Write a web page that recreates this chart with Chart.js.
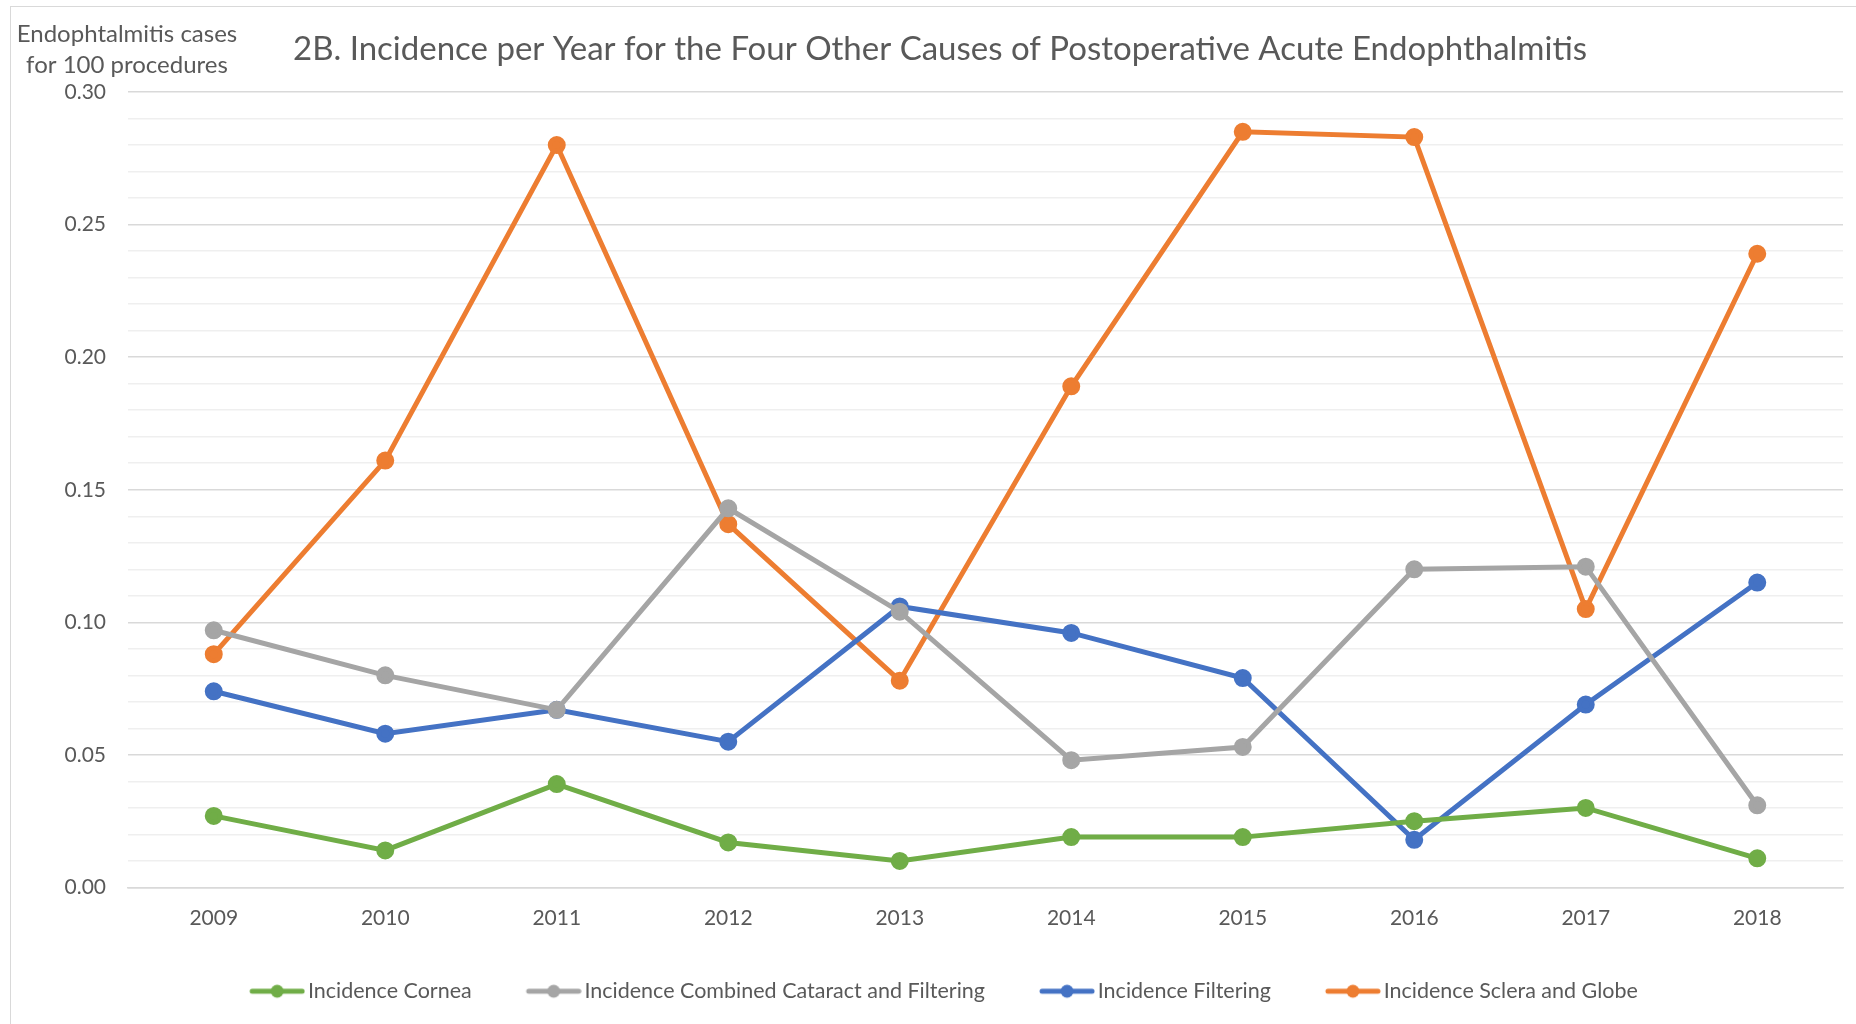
<!DOCTYPE html>
<html>
<head>
<meta charset="utf-8">
<script src="https://cdn.jsdelivr.net/npm/chart.js@4.4.1/dist/chart.umd.min.js"></script>
<style>
  html, body { margin: 0; padding: 0; background: #fff; }
  #wrap { position: relative; width: 1856px; height: 1024px; }
</style>
</head>
<body>
<div id="wrap"><canvas id="chart" width="1856" height="1024"></canvas></div>
<script>
const years = ['2009', '2010', '2011', '2012', '2013', '2014', '2015', '2016', '2017', '2018'];
const cornea = [0.027, 0.014, 0.039, 0.017, 0.010, 0.019, 0.019, 0.025, 0.030, 0.011];
const combined = [0.097, 0.080, 0.067, 0.143, 0.104, 0.048, 0.053, 0.120, 0.121, 0.031];
const filtering = [0.074, 0.058, 0.067, 0.055, 0.106, 0.096, 0.079, 0.018, 0.069, 0.115];
const sclera = [0.088, 0.161, 0.280, 0.137, 0.078, 0.189, 0.285, 0.283, 0.105, 0.239];

const FONT = 'Lato, "Open Sans", sans-serif';
const TEXT = '#595959';
const BOX_W = 92;

// legend marker: short line with a dot, drawn at the right end of a wide box
function legendIcon(color) {
    const c = document.createElement('canvas');
    c.width = BOX_W + 16; c.height = 16;
    const g = c.getContext('2d');
    const x1 = c.width - 3, x0 = x1 - 50;
    g.strokeStyle = color;
    g.lineWidth = 5;
    g.lineCap = 'round';
    g.beginPath(); g.moveTo(x0, 8); g.lineTo(x1, 8); g.stroke();
    g.fillStyle = color;
    g.beginPath(); g.arc((x0 + x1) / 2, 8, 6.5, 0, Math.PI * 2); g.fill();
    return c;
}

function series(label, data, color) {
    return {
        label: label,
        data: data,
        borderColor: color,
        backgroundColor: color,
        borderWidth: 5,
        pointRadius: 6.5,
        pointHoverRadius: 7,
        pointBackgroundColor: color,
        pointBorderColor: color,
        tension: 0,
        fill: false
    };
}

// title, axis label and outer frame
const decor = {
    id: 'decor',
    beforeDraw(chart) {
        const ctx = chart.ctx;
        ctx.save();
        ctx.strokeStyle = '#d9d9d9';
        ctx.lineWidth = 1;
        ctx.strokeRect(10.5, 6.5, 1860, 1030);
        ctx.restore();
    },
    afterDraw(chart) {
        const ctx = chart.ctx;
        ctx.save();
        ctx.fillStyle = TEXT;
        ctx.textAlign = 'center';
        ctx.textBaseline = 'middle';
        ctx.font = '33px ' + FONT;
        ctx.fillText('2B. Incidence per Year for the Four Other Causes of Postoperative Acute Endophthalmitis', 940, 49);
        ctx.font = '24px ' + FONT;
        ctx.fillText('Endophtalmitis cases', 127, 34);
        ctx.fillText('for 100 procedures', 127, 65);
        ctx.restore();
    }
};

new Chart(document.getElementById('chart').getContext('2d'), {
    type: 'line',
    data: {
        labels: years,
        datasets: [
            series('Incidence Cornea', cornea, '#70AD47'),
            series('Incidence Combined Cataract and Filtering', combined, '#A5A5A5'),
            series('Incidence Filtering', filtering, '#4472C4'),
            series('Incidence Sclera and Globe', sclera, '#ED7D31')
        ]
    },
    options: {
        responsive: false,
        animation: false,
        layout: { padding: { top: 92, right: 13, left: 0, bottom: 12 } },
        plugins: {
            title: { display: false },
            tooltip: { enabled: false },
            legend: {
                position: 'bottom',
                labels: {
                    font: { family: FONT, size: 21.5 },
                    color: TEXT,
                    usePointStyle: true,
                    pointStyleWidth: BOX_W,
                    padding: 10,
                    generateLabels(chart) {
                        return chart.data.datasets.map((ds, i) => ({
                            text: ds.label,
                            fillStyle: ds.borderColor,
                            strokeStyle: ds.borderColor,
                            fontColor: TEXT,
                            lineWidth: 0,
                            pointStyle: legendIcon(ds.borderColor),
                            datasetIndex: i
                        }));
                    }
                }
            }
        },
        scales: {
            x: {
                offset: true,
                grid: { display: false },
                border: { color: '#d9d9d9', width: 1.5 },
                ticks: { font: { family: FONT, size: 21 }, color: TEXT, padding: 10 },
                afterFit(scale) { scale.height = 83; }
            },
            y: {
                min: 0,
                max: 0.30,
                ticks: {
                    stepSize: 0.01,
                    autoSkip: false,
                    font: { family: FONT, size: 21 },
                    color: TEXT,
                    padding: 22,
                    callback(v) {
                        const n = Math.round(v * 100);
                        return n % 5 === 0 ? (n / 100).toFixed(2) : '';
                    }
                },
                grid: {
                    drawTicks: false,
                    lineWidth: 1.5,
                    color(ctx) {
                        const n = Math.round(ctx.tick.value * 100);
                        return n % 5 === 0 ? '#d9d9d9' : '#efefef';
                    }
                },
                border: { display: false },
                afterFit(scale) { scale.width = 128; }
            }
        }
    },
    plugins: [decor]
});
</script>
</body>
</html>
